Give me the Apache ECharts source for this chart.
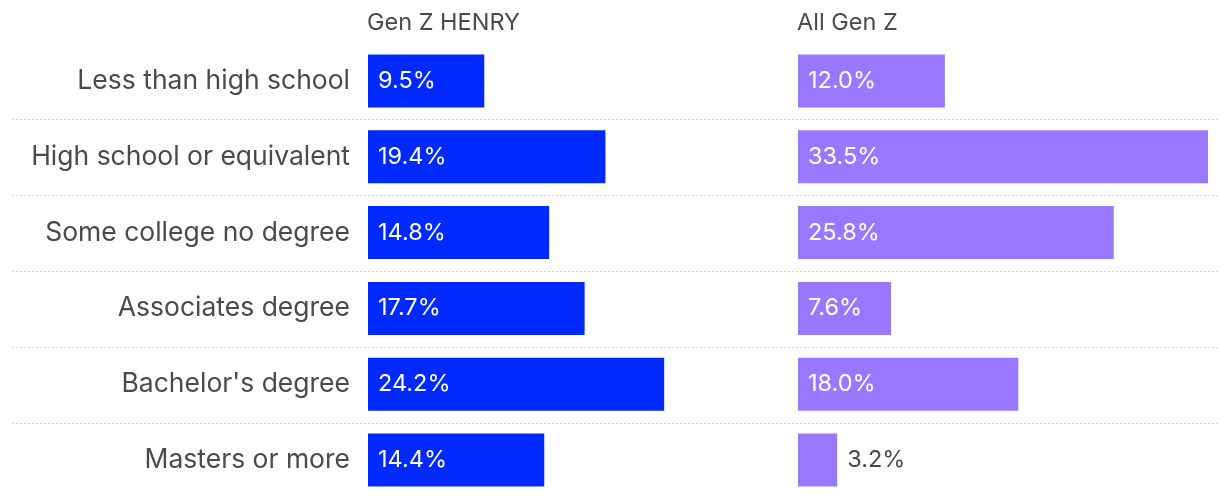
<!DOCTYPE html>
<html><head><meta charset="utf-8">
<script src="https://cdn.jsdelivr.net/npm/echarts@6/dist/echarts.min.js"></script>
<style>html,body{margin:0;padding:0;background:#fff}#c{width:1220px;height:498px}</style>
</head><body><div id="c"></div>
<script>
const categories = ["Less than high school","High school or equivalent","Some college no degree","Associates degree","Bachelor's degree","Masters or more"];
const genZHenry = [9.5, 19.4, 14.8, 17.7, 24.2, 14.4];
const allGenZ = [12.0, 33.5, 25.8, 7.6, 18.0, 3.2];
const headers = ["Gen Z HENRY", "All Gen Z"];

const FONT = 'Inter, "Noto Sans", sans-serif';
const TXT = '#4a4a4a';
const chart = echarts.init(document.getElementById('c'));
function items(vals){
  return vals.map(v => v < 5 ? {value:v, label:{position:'right', distance:10, color:TXT}} : v);
}
const valueAxis = (i) => ({type:'value', gridIndex:i, min:0, max:33.5, show:false});
chart.setOption({
  animation:false,
  title:[
    {text:headers[0], left:362, top:6, textStyle:{fontFamily:FONT, fontSize:23.5, fontWeight:'normal', color:TXT}},
    {text:headers[1], left:792, top:6, textStyle:{fontFamily:FONT, fontSize:23.5, fontWeight:'normal', color:TXT}}
  ],
  grid:[
    {left:368, top:43, width:410, height:456},
    {left:798, top:43, width:410, height:456},
    {left:12, top:119, right:0, height:304}
  ],
  xAxis:[valueAxis(0), valueAxis(1), {type:'value', gridIndex:2, show:false}],
  yAxis:[
    {type:'category', gridIndex:0, data:categories, inverse:true, axisLine:{show:false}, axisTick:{show:false},
     axisLabel:{fontFamily:FONT, fontSize:26.5, color:TXT, margin:18}},
    {type:'category', gridIndex:1, data:categories, inverse:true, show:false},
    {type:'category', gridIndex:2, data:[0,1,2,3,4], boundaryGap:false, axisLine:{show:false}, axisTick:{show:false}, axisLabel:{show:false},
     splitLine:{show:true, interval:0, lineStyle:{color:'#d4d4d4', type:[2,2], width:1}}}
  ],
  series:[
    {type:'bar', xAxisIndex:0, yAxisIndex:0, data:items(genZHenry), barWidth:53, itemStyle:{color:'#0029FF'},
     label:{show:true, position:'insideLeft', distance:10, formatter:p=>p.value.toFixed(1)+'%', fontFamily:FONT, fontSize:23.5, color:'#fff'}},
    {type:'bar', xAxisIndex:1, yAxisIndex:1, data:items(allGenZ), barWidth:53, itemStyle:{color:'#9878FF'},
     label:{show:true, position:'insideLeft', distance:10, formatter:p=>p.value.toFixed(1)+'%', fontFamily:FONT, fontSize:23.5, color:'#fff'}}
  ]
});
</script></body></html>
